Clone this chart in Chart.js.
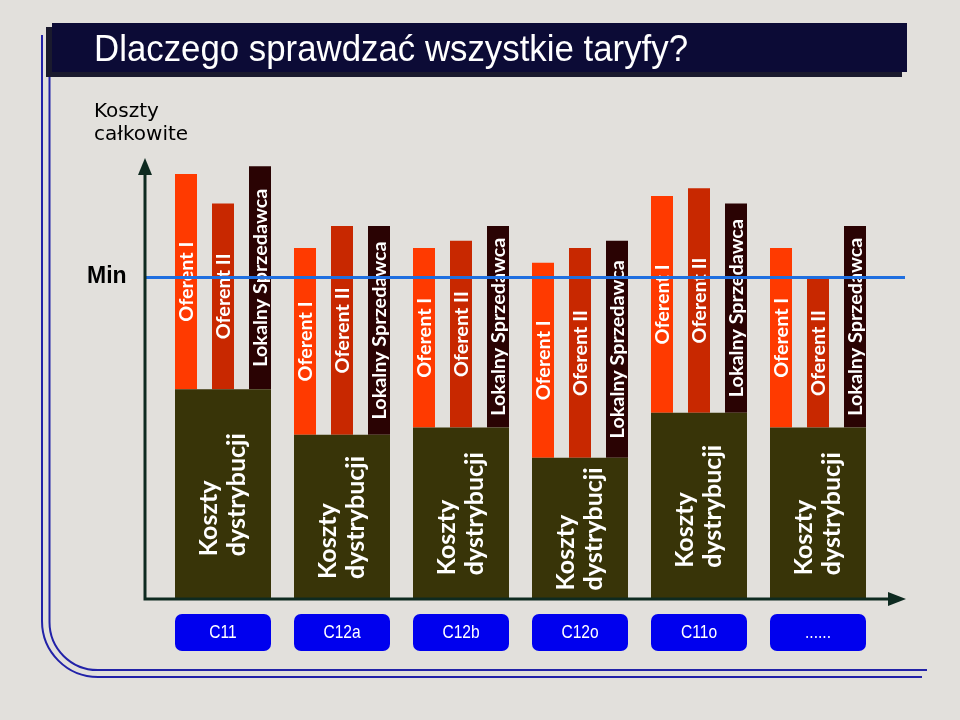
<!DOCTYPE html>
<html lang="pl">
<head>
<meta charset="utf-8">
<title>Dlaczego sprawdzać wszystkie taryfy?</title>
<script src="https://cdn.jsdelivr.net/npm/chart.js@4.4.1/dist/chart.umd.min.js"></script>
<style>
    html, body { margin: 0; padding: 0; background: #e2e0dc; overflow: hidden; }
    canvas { display: block; }
</style>
</head>
<body>
<canvas id="chart" width="960" height="720"></canvas>
<script>
// values (arbitrary cost units, 0 = x axis)
const categories = ["C11", "C12a", "C12b", "C12o", "C11o", "......"];
const kosztyDystrybucji = [45.8, 35.9, 37.5, 30.9, 40.7, 37.5];
const oferentI = [92.6, 76.5, 76.5, 73.3, 87.8, 76.5];
const oferentII = [86.2, 81.3, 78.1, 76.5, 89.5, 69.9];
const lokalnySprzedawca = [94.3, 81.3, 81.3, 78.1, 86.2, 81.3];
const minCost = 70.1;

const title = "Dlaczego sprawdzać wszystkie taryfy?";

function floating(values) {
    return values.map((v, i) => [kosztyDystrybucji[i], v]);
}

function roundRect(ctx, x, y, w, h, r) {
    ctx.beginPath();
    ctx.moveTo(x + r, y);
    ctx.arcTo(x + w, y, x + w, y + h, r);
    ctx.arcTo(x + w, y + h, x, y + h, r);
    ctx.arcTo(x, y + h, x, y, r);
    ctx.arcTo(x, y, x + w, y, r);
    ctx.closePath();
}

const slidePlugin = {
    id: "slide",
    beforeDraw(chart) {
        const ctx = chart.ctx;
        ctx.save();
        ctx.fillStyle = "#e2e0dc";
        ctx.fillRect(0, 0, chart.width, chart.height);

        // frame: two blue lines with rounded corner
        ctx.strokeStyle = "#2222a8";
        ctx.lineWidth = 2;
        ctx.beginPath();
        ctx.moveTo(42, 35);
        ctx.arcTo(42, 677, 100, 677, 56);
        ctx.lineTo(922, 677);
        ctx.stroke();
        ctx.beginPath();
        ctx.moveTo(49.5, 35);
        ctx.arcTo(49.5, 670, 100, 670, 48);
        ctx.lineTo(927, 670);
        ctx.stroke();

        // title bar
        ctx.fillStyle = "#1a1a2e";
        ctx.fillRect(46, 27, 856, 50);
        ctx.fillStyle = "#0c0b36";
        ctx.fillRect(52, 23, 855, 49);
        ctx.fillStyle = "#ffffff";
        ctx.font = "36px 'Liberation Sans', Arial, sans-serif";
        ctx.textBaseline = "alphabetic";
        let w = ctx.measureText(title).width;
        ctx.save();
        ctx.translate(94, 61);
        ctx.scale(594 / w, 1);
        ctx.fillText(title, 0, 0);
        ctx.restore();

        // y axis caption
        ctx.fillStyle = "#000000";
        ctx.font = "20px 'DejaVu Sans', sans-serif";
        ctx.fillText("Koszty", 94, 117);
        ctx.fillText("całkowite", 94, 140);
        ctx.font = "bold 23px 'Liberation Sans', Arial, sans-serif";
        ctx.fillText("Min", 87, 283);
        ctx.restore();
    },
    afterDatasetsDraw(chart) {
        const ctx = chart.ctx;
        ctx.save();
        ctx.fillStyle = "#ffffff";
        ctx.textBaseline = "middle";

        // labels inside the bars, rotated
        chart.data.datasets.forEach((ds, di) => {
            chart.getDatasetMeta(di).data.forEach(el => {
                const cy = (el.y + el.base) / 2;
                ctx.save();
                ctx.translate(el.x, cy);
                ctx.rotate(-Math.PI / 2);
                if (di === 0) {
                    ctx.font = "bold 25px Lato, 'Noto Sans', sans-serif";
                    const l1 = "Koszty", l2 = "dystrybucji";
                    const mw = Math.max(ctx.measureText(l1).width, ctx.measureText(l2).width);
                    ctx.textAlign = "left";
                    ctx.fillText(l1, -mw / 2, -14);
                    ctx.fillText(l2, -mw / 2, 14);
                } else {
                    ctx.font = "bold 18px Lato, 'Noto Sans', sans-serif";
                    ctx.textAlign = "center";
                    ctx.scale(1.1, 1);
                    ctx.fillText(ds.label, 0, 1);
                }
                ctx.restore();
            });
        });

        const yScale = chart.scales.y;
        const x0 = 145;
        const y0 = yScale.getPixelForValue(0) - 1;

        // minimum line
        const ym = yScale.getPixelForValue(minCost);
        ctx.strokeStyle = "#1f6fe0";
        ctx.lineWidth = 3;
        ctx.beginPath();
        ctx.moveTo(x0, ym);
        ctx.lineTo(905, ym);
        ctx.stroke();

        // axes with arrows
        ctx.strokeStyle = "#0e2a20";
        ctx.fillStyle = "#0e2a20";
        ctx.lineWidth = 3;
        ctx.beginPath();
        ctx.moveTo(x0, 172);
        ctx.lineTo(x0, y0);
        ctx.lineTo(890, y0);
        ctx.stroke();
        ctx.beginPath();
        ctx.moveTo(x0, 158);
        ctx.lineTo(x0 + 7, 175);
        ctx.lineTo(x0 - 7, 175);
        ctx.closePath();
        ctx.fill();
        ctx.beginPath();
        ctx.moveTo(906, y0);
        ctx.lineTo(888, y0 - 7);
        ctx.lineTo(888, y0 + 7);
        ctx.closePath();
        ctx.fill();

        // category boxes
        const xScale = chart.scales.x;
        ctx.font = "19px 'Liberation Sans', Arial, sans-serif";
        ctx.textAlign = "center";
        categories.forEach((c, i) => {
            const cx = xScale.getPixelForValue(i);
            ctx.fillStyle = "#0000ee";
            roundRect(ctx, cx - 48, 614, 96, 37, 7);
            ctx.fill();
            ctx.fillStyle = "#ffffff";
            ctx.save();
            ctx.translate(cx, 633);
            ctx.scale(0.82, 1);
            ctx.fillText(c, 0, 0);
            ctx.restore();
        });
        ctx.restore();
    }
};

new Chart(document.getElementById("chart"), {
    type: "bar",
    data: {
        labels: categories,
        datasets: [
            {
                label: "Koszty dystrybucji",
                data: kosztyDystrybucji,
                backgroundColor: "#383408",
                grouped: false,
                categoryPercentage: 1,
                barPercentage: 96 / 119
            },
            {
                label: "Oferent I",
                data: floating(oferentI),
                backgroundColor: "#ff3a00",
                categoryPercentage: 111 / 119,
                barPercentage: 22 / 37
            },
            {
                label: "Oferent II",
                data: floating(oferentII),
                backgroundColor: "#c82800",
                categoryPercentage: 111 / 119,
                barPercentage: 22 / 37
            },
            {
                label: "Lokalny Sprzedawca",
                data: floating(lokalnySprzedawca),
                backgroundColor: "#2a0303",
                categoryPercentage: 111 / 119,
                barPercentage: 22 / 37
            }
        ]
    },
    options: {
        responsive: false,
        animation: false,
        layout: { padding: { left: 163.5, right: 82.5, top: 140, bottom: 120 } },
        plugins: { legend: { display: false }, tooltip: { enabled: false } },
        scales: {
            x: { display: false, grid: { display: false } },
            y: { display: false, min: 0, max: 100 }
        }
    },
    plugins: [slidePlugin]
});
</script>
</body>
</html>
